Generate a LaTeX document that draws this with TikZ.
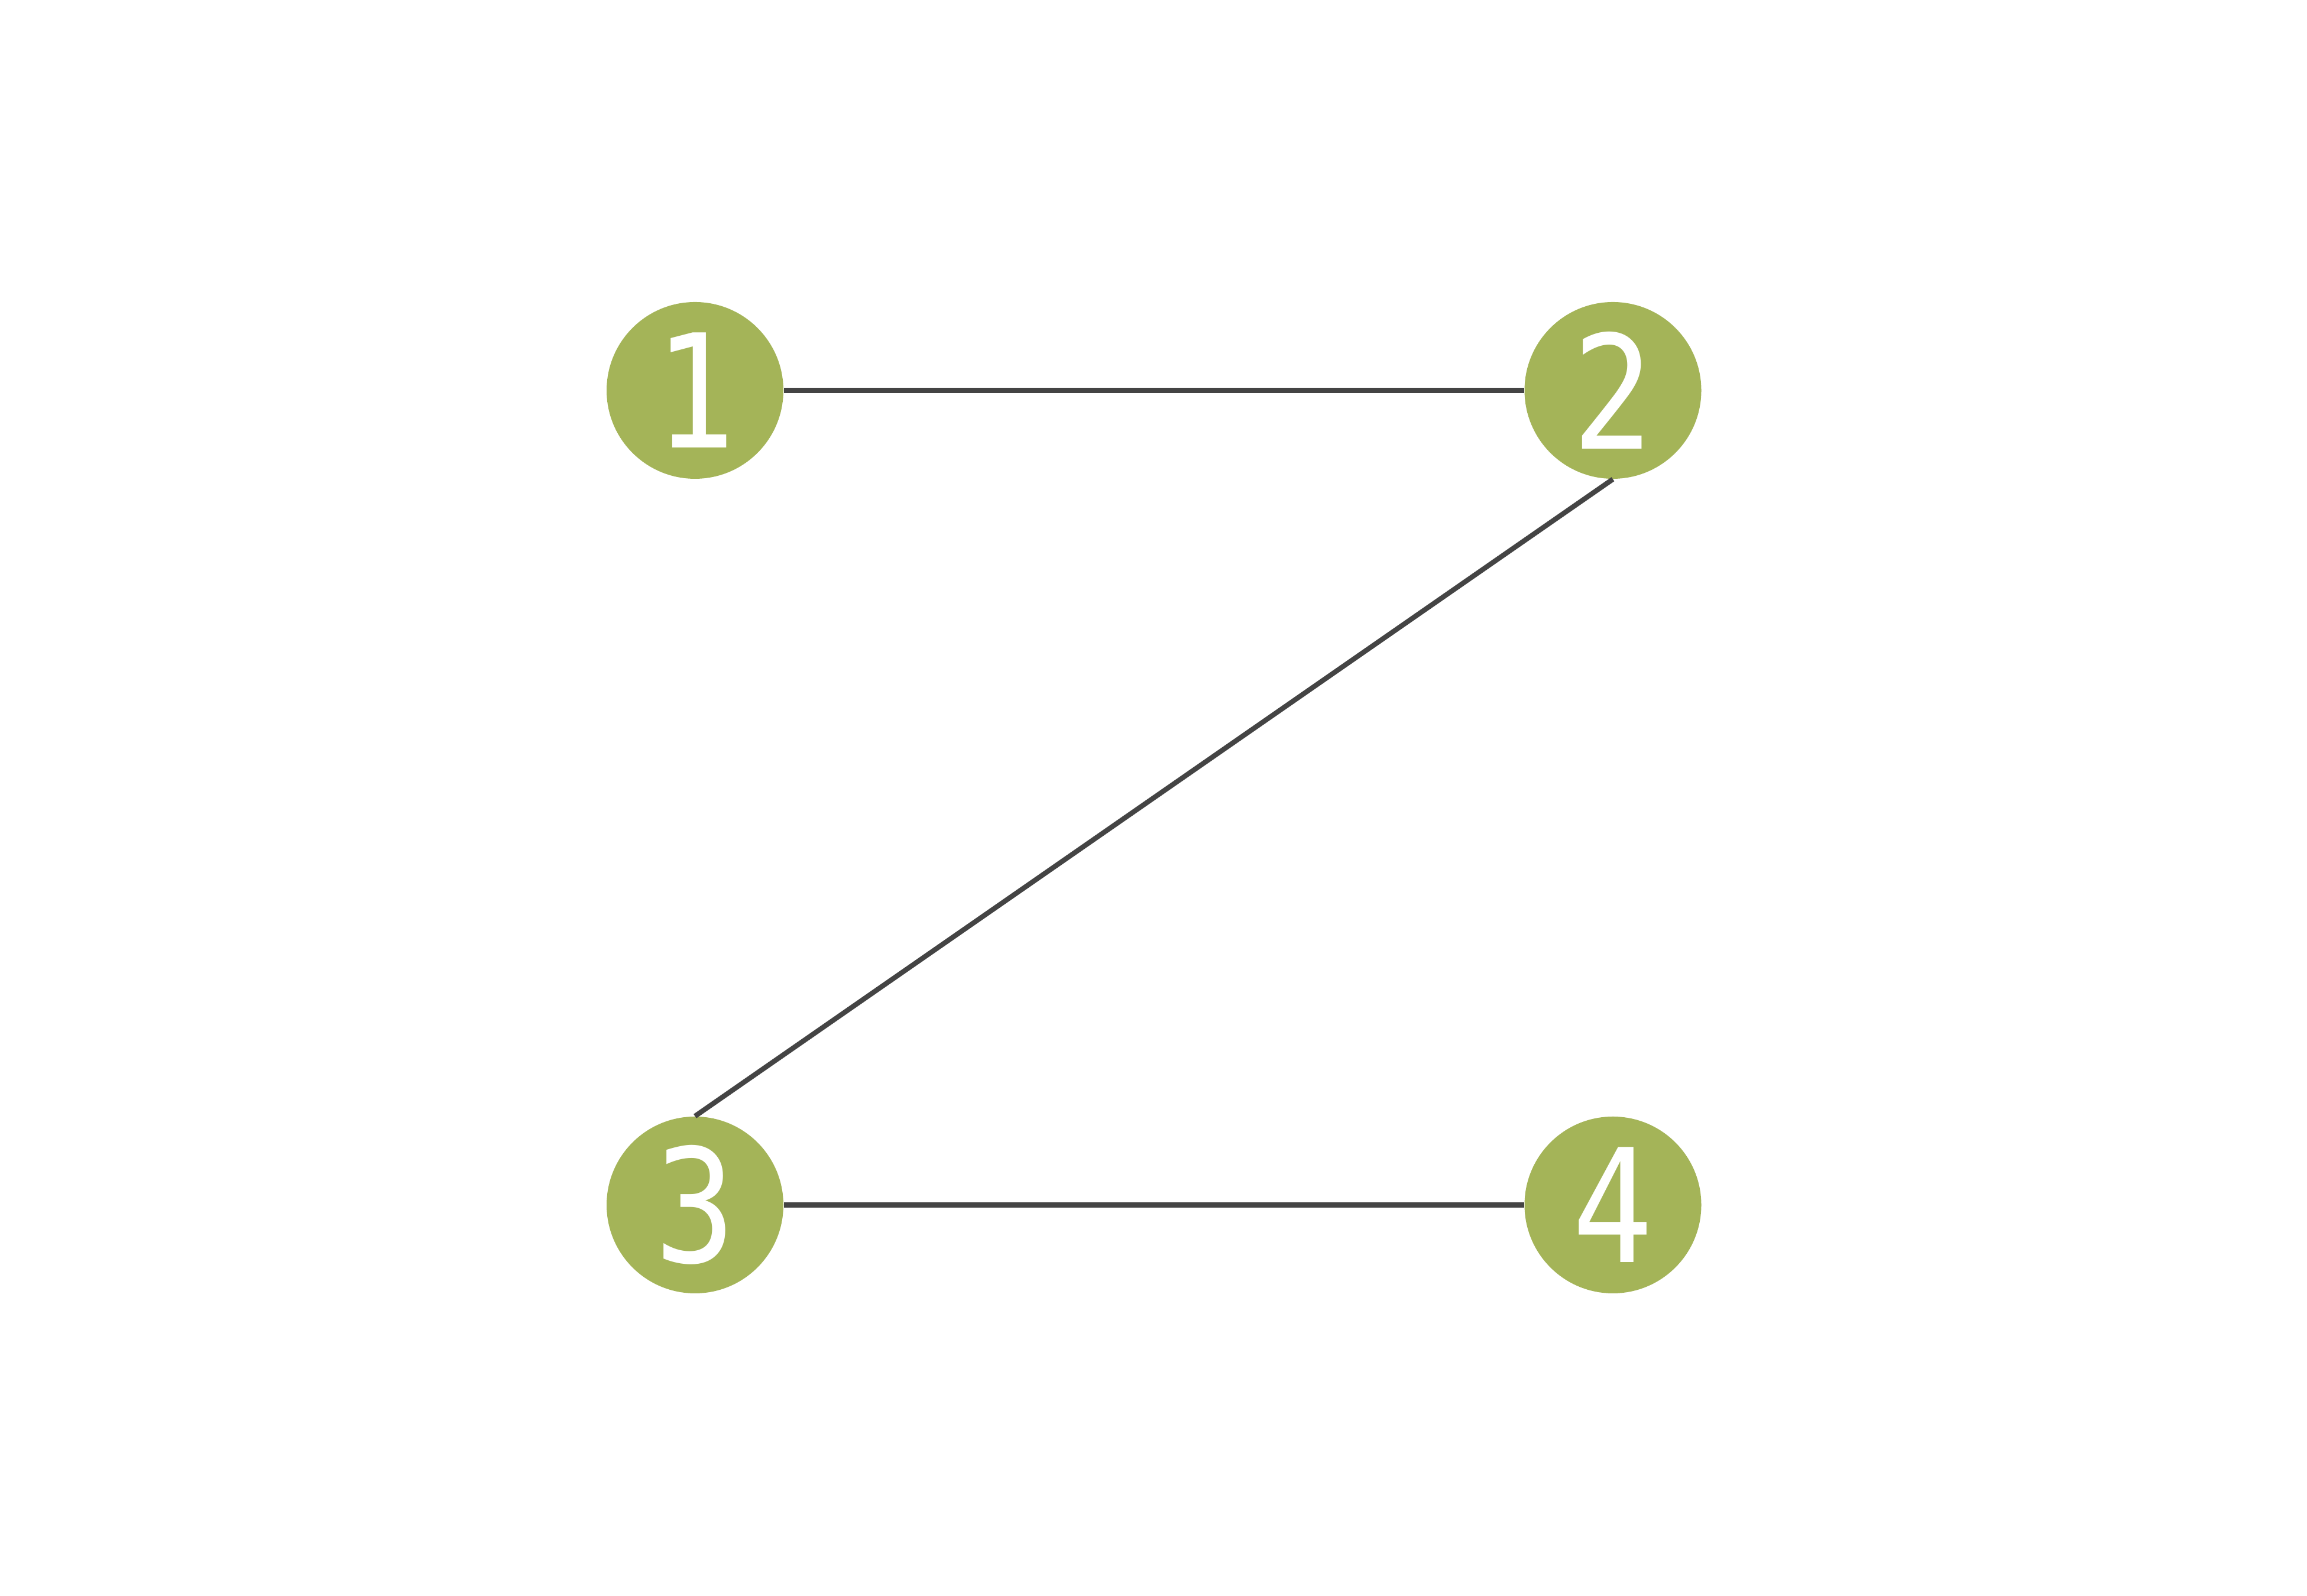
\documentclass[tikz,border=0pt]{standalone}
\usepackage{fontspec}
\newfontfamily\digitfont{DejaVu Sans Mono}
\definecolor{nodegreen}{RGB}{164,180,88}
\definecolor{edgegray}{RGB}{68,68,68}
\begin{document}
\begin{tikzpicture}[
    vertex/.style={circle, fill=nodegreen, text=white, inner sep=0pt,
        minimum size=2.99cm, font=\digitfont\fontsize{76}{76}\selectfont},
    edge/.style={draw=edgegray, line width=2.4pt}]
    \useasboundingbox (0,0) rectangle (39.02,27);
    \node[vertex] (n1) at (11.755, 20.395) {\scalebox{0.85}[1]{1}};
    \node[vertex] (n2) at (27.28, 20.395) {\scalebox{0.85}[1]{2}};
    \node[vertex] (n3) at (11.755, 6.615) {\scalebox{0.85}[1]{3}};
    \node[vertex] (n4) at (27.28, 6.615) {\scalebox{0.85}[1]{4}};
    \draw[edge] (n1.east) -- (n2.west);
    \draw[edge] (n2.south) -- (n3.north);
    \draw[edge] (n3.east) -- (n4.west);
\end{tikzpicture}
\end{document}
